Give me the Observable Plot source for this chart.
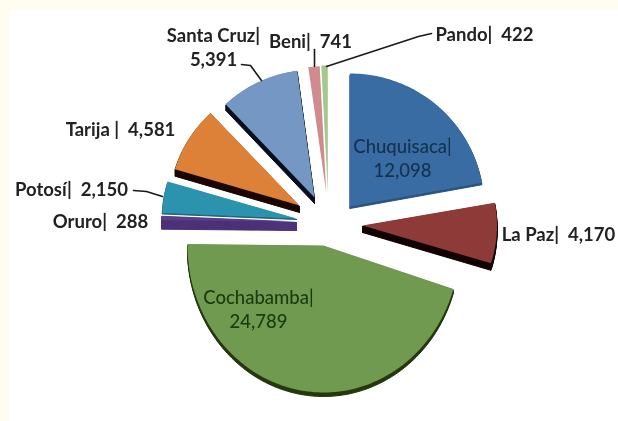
<!DOCTYPE html>
<html><head><meta charset="utf-8">
<script src="https://cdn.jsdelivr.net/npm/d3@7"></script>
<script src="https://cdn.jsdelivr.net/npm/@observablehq/plot@0.6"></script>
<style>html,body{margin:0;padding:0;background:#fffdf0}svg{display:block;filter:blur(.55px)}</style>
</head><body><div id="chart"></div>
<script>
const departments = ["Chuquisaca","La Paz","Cochabamba","Oruro","Potosí","Tarija","Santa Cruz","Beni","Pando"];
const population = [12098,4170,24789,288,2150,4581,5391,741,422];
const faceColors = ["#386ca3","#8e3a38","#6f9a50","#5b3d86","#2b93ad","#dd8038","#7497c4","#cf8b8e","#a5c88c"];
const sideColors = ["#2a5482","#120404","#26380f","#4c3279","#1c6478","#1a0800","#0a1020","#9a6466","#7d9a68"];
const labels = ["Chuquisaca|\n12,098","La Paz|\u00a0\u00a04,170","Cochabamba|\n24,789","Oruro|\u00a0\u00a0288","Potosí|\u00a0\u00a02,150","Tarija\u00a0|\u00a0\u00a04,581","Santa Cruz|\n5,391","Beni|\u00a0\u00a0741","Pando|\u00a0\u00a0422"];
const labelColors = ["#16304f","#222","#1b3a10","#222","#222","#222","#222","#222","#222"];
const insideLabels = ["Chuquisaca","Cochabamba"];

// picture layout of the exploded pie, in pixels
const tipX = [349.5,362,323,296,296,299,314,325.7,327.3];
const tipY = [206,225,245,221,218,205,197,191.7,192];
const radX = [134,134.5,136,135,134.5,130,130,134,134];
const radY = [133,128,147,135,129,127,128,126,127];
const depth = [2,7,4,9,1,7,6,0,0];
const labelX = [402,558,258,100,71,120,213,310,484];
const labelY = [157,233,308,220,188,128,46,40,33];
const leaders = [
  {id:"Potosí",xs:[133,146,162],ys:[190,191,196]},
  {id:"Santa Cruz",xs:[241,250,261],ys:[64,65,80]},
  {id:"Beni",xs:[314,314],ys:[49,66]},
  {id:"Pando",xs:[431,418,326],ys:[33,36,66]}
];

const arcs = d3.pie().sort(null).startAngle(0).endAngle(2*Math.PI)(population);
function outline(i, dy){
  const a = arcs[i], pts = [{x:tipX[i], y:tipY[i]+dy, i}];
  const n = Math.max(4, Math.ceil((a.endAngle-a.startAngle)*40));
  for(let k=0;k<=n;k++){
    const t = a.startAngle+(a.endAngle-a.startAngle)*k/n;
    pts.push({x:tipX[i]+radX[i]*Math.sin(t), y:tipY[i]+dy-radY[i]*Math.cos(t), i});
  }
  pts.push({x:tipX[i], y:tipY[i]+dy, i});
  return pts;
}
const poly = (pts, fill, stroke="none") => Plot.line(pts,{x:"x",y:"y",fill,stroke,strokeWidth:1,curve:"linear"});

const marks = [
  Plot.rect([{x1:9,x2:618,y1:10,y2:421}],{x1:"x1",x2:"x2",y1:"y1",y2:"y2",fill:"#ffffff"})
];
departments.forEach((d,i)=>{
  if(depth[i]>0) for(let s=depth[i];s>0;s-=1) marks.push(poly(outline(i,s), sideColors[i], sideColors[i]));
  marks.push(poly(outline(i,0), faceColors[i]));
});
leaders.forEach(l=>{
  marks.push(Plot.line(l.xs.map((x,k)=>({x,y:l.ys[k]})),{x:"x",y:"y",stroke:"#1a1a1a",strokeWidth:1.6}));
});
const labelRows = departments.map((d,i)=>({d,i}));
const labelMark = (rows, fontWeight) => Plot.text(rows,{
  x:o=>labelX[o.i], y:o=>labelY[o.i], text:o=>labels[o.i], fill:o=>labelColors[o.i],
  fontSize:18.5, fontWeight, lineHeight:1.3, fontFamily:"Lato, sans-serif", textAnchor:"middle"
});
marks.push(labelMark(labelRows.filter(o=>insideLabels.includes(o.d)),500));
marks.push(labelMark(labelRows.filter(o=>!insideLabels.includes(o.d)),700));

const chart = Plot.plot({
  width:618,height:421,margin:0,
  x:{domain:[0,618],axis:null},
  y:{domain:[421,0],axis:null},
  style:{background:"transparent"},
  marks
});
document.getElementById("chart").append(chart);
</script></body></html>
